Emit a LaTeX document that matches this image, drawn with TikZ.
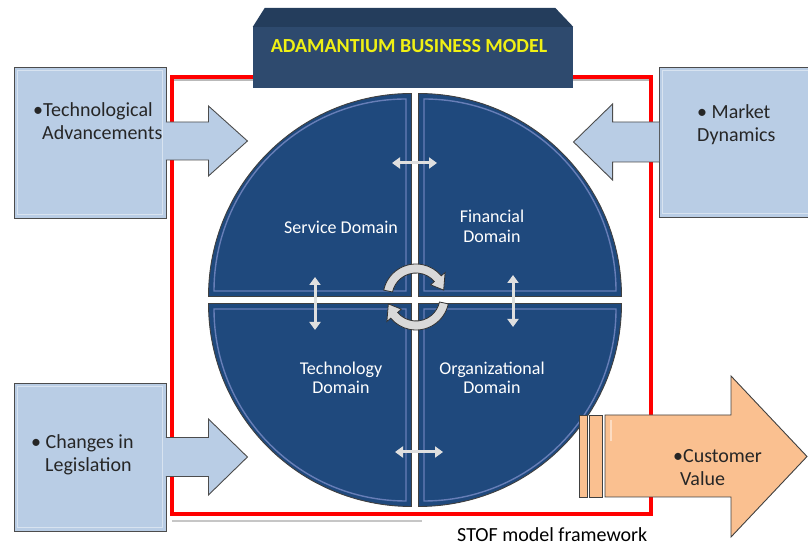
\documentclass[tikz,border=0pt]{standalone}
\usepackage{fontspec}
\setmainfont{Carlito}
\usepackage{tikz}
\usetikzlibrary{
    arrows.meta,
    calc,
    positioning
}
\definecolor{navy}{RGB}{31,73,125}
\definecolor{bannerfront}{RGB}{46,74,110}
\definecolor{bannertop}{RGB}{36,61,92}
\definecolor{callblue}{RGB}{185,205,229}
\definecolor{callorange}{RGB}{250,192,144}
\definecolor{titleyellow}{RGB}{240,240,20}
\definecolor{framered}{RGB}{255,0,0}

\begin{document}
\begin{tikzpicture}[x=1pt, y=1pt,
    callbox/.style={draw=black!70, line width=0.9pt, fill=callblue},
    valuebox/.style={draw=black!75, line width=0.9pt, fill=callorange},
    quad/.style={draw=black!75, line width=0.9pt, fill=navy},
    bevel/.style={draw=white, opacity=0.45, line width=1.4pt},
    link/.style={draw=gray!25, line width=3pt, {Triangle[width=11pt,length=8pt]}-{Triangle[width=11pt,length=8pt]}},
    spinarrow/.style={draw=black!80, line width=0.8pt, fill=gray!30},
    calltext/.style={text=black!85, font=\fontsize{20}{23}\selectfont, align=left, inner sep=0pt, anchor=west},
    domtext/.style={text=white, font=\fontsize{18}{19.5}\selectfont, align=center, inner sep=0pt}
]
    \useasboundingbox (0,0) rectangle (808,551);

    % frame round the model
    \draw[gray!55, line width=2pt] (172,471) -- (651,471);
    \draw[gray!45, line width=2pt] (172,30) -- (422,30);
    \draw[framered, line width=3.4pt] (172,37) rectangle (651,474);

    % title banner
    \node[fill=bannerfront, minimum width=320pt, minimum height=61pt, inner sep=0pt] (banner) at (413,493.5) {};
    \fill[bannertop] (banner.north west) -- ++(12,19) -- ([shift={(-18,19)}]banner.north east) -- (banner.north east) -- cycle;
    \node[text=titleyellow, font=\bfseries\fontsize{20}{24}\selectfont, inner sep=0pt] (title) at (409,505) {ADAMANTIUM BUSINESS MODEL};

    % the four domains
    \coordinate (ctr) at (415,251);
    \foreach \a/\dx/\dy in {0/1/1, 90/-1/1, 180/-1/-1, 270/1/-1} {
        \draw[quad] ($(ctr)+(\dx*3.5,\dy*3.5)$) -- ++(\a:203) arc[start angle=\a, delta angle=90, radius=203] -- cycle;
        \draw[bevel, draw=blue!25!white] ($(ctr)+(\dx*9,\dy*9)$) -- ++(\a:192) arc[start angle=\a, delta angle=90, radius=192] -- cycle;
    }

    \node[domtext] (service) at (341,324) {Service Domain};
    \node[domtext] (financial) at (492,324.5) {Financial\\Domain};
    \node[domtext] (technology) at (341,173) {Technology\\Domain};
    \node[domtext] (organizational) at (492,173) {Organizational\\Domain};

    \draw[link] ($(ctr)+(-23,137)$) -- ($(ctr)+(22,137)$);
    \draw[link] ($(ctr)+(-100,23)$) -- ($(ctr)+(-100,-30)$);
    \draw[link] ($(ctr)+(98,25)$) -- ($(ctr)+(98,-27)$);
    \draw[link] ($(ctr)+(-20,-152)$) -- ($(ctr)+(28,-152)$);

    \begin{scope}[shift={(416,254)}]
        \filldraw[spinarrow] (168:33) arc[start angle=168, end angle=40, radius=33] -- (40:38) -- (14:28.5) -- (40:19) -- (40:24) arc[start angle=40, end angle=168, radius=24] -- cycle;
        \filldraw[spinarrow] (348:33) arc[start angle=348, end angle=220, radius=33] -- (220:38) -- (194:28.5) -- (220:19) -- (220:24) arc[start angle=220, end angle=348, radius=24] -- cycle;
    \end{scope}

    % drivers from outside
    \node[callbox, minimum width=152pt, minimum height=151pt] (advances) at (90,408.5) {};
    \draw[bevel] ([shift={(4,4)}]advances.south west) rectangle ([shift={(-4,-4)}]advances.north east);
    \filldraw[callbox] ([shift={(-0.6,20.5)}]advances.east) -- ++(42.6,0) -- ++(0,16) -- ++(39,-35) -- ++(-39,-35) -- ++(0,16) -- ++(-42.6,0);
    \node[calltext] (advtext) at (33,429.5) {\textbullet Technological\\\hspace{9pt}Advancements};

    \node[callbox, minimum width=153pt, minimum height=150pt] (market) at (735.5,409) {};
    \draw[bevel] ([shift={(4,4)}]market.south west) rectangle ([shift={(-4,-4)}]market.north east);
    \filldraw[callbox] ([shift={(0.6,20)}]market.west) -- ++(-46.6,0) -- ++(0,18) -- ++(-39,-38) -- ++(39,-38) -- ++(0,18) -- ++(46.6,0);
    \node[calltext] (markettext) at (697,426) {\textbullet\ Market\\Dynamics};

    \node[callbox, minimum width=152pt, minimum height=148pt] (legislation) at (90,94) {};
    \draw[bevel] ([shift={(4,4)}]legislation.south west) rectangle ([shift={(-4,-4)}]legislation.north east);
    \filldraw[callbox] ([shift={(-0.6,19.5)}]legislation.east) -- ++(42.6,0) -- ++(0,18.5) -- ++(39,-38) -- ++(-39,-38) -- ++(0,18.5) -- ++(-42.6,0);
    \node[calltext] (legtext) at (31,96.5) {\textbullet\ Changes in\\\hspace{14pt}Legislation};

    % outcome
    \filldraw[valuebox] (579,54) rectangle (587,136);
    \filldraw[valuebox] (589,54) rectangle (602,136);
    \filldraw[valuebox] (605,54) -- (731,54) -- (731,14) -- (807,94.5) -- (731,175) -- (731,136) -- (605,136) -- cycle;
    \draw[bevel] (611,131) -- (611,110);
    \node[calltext] (customer) at (673,83) {\textbullet Customer\\\hspace{7pt}Value};

    \node[anchor=base west, font=\fontsize{20}{24}\selectfont, inner sep=0pt] (caption) at (457,9) {STOF model framework};
\end{tikzpicture}
\end{document}
